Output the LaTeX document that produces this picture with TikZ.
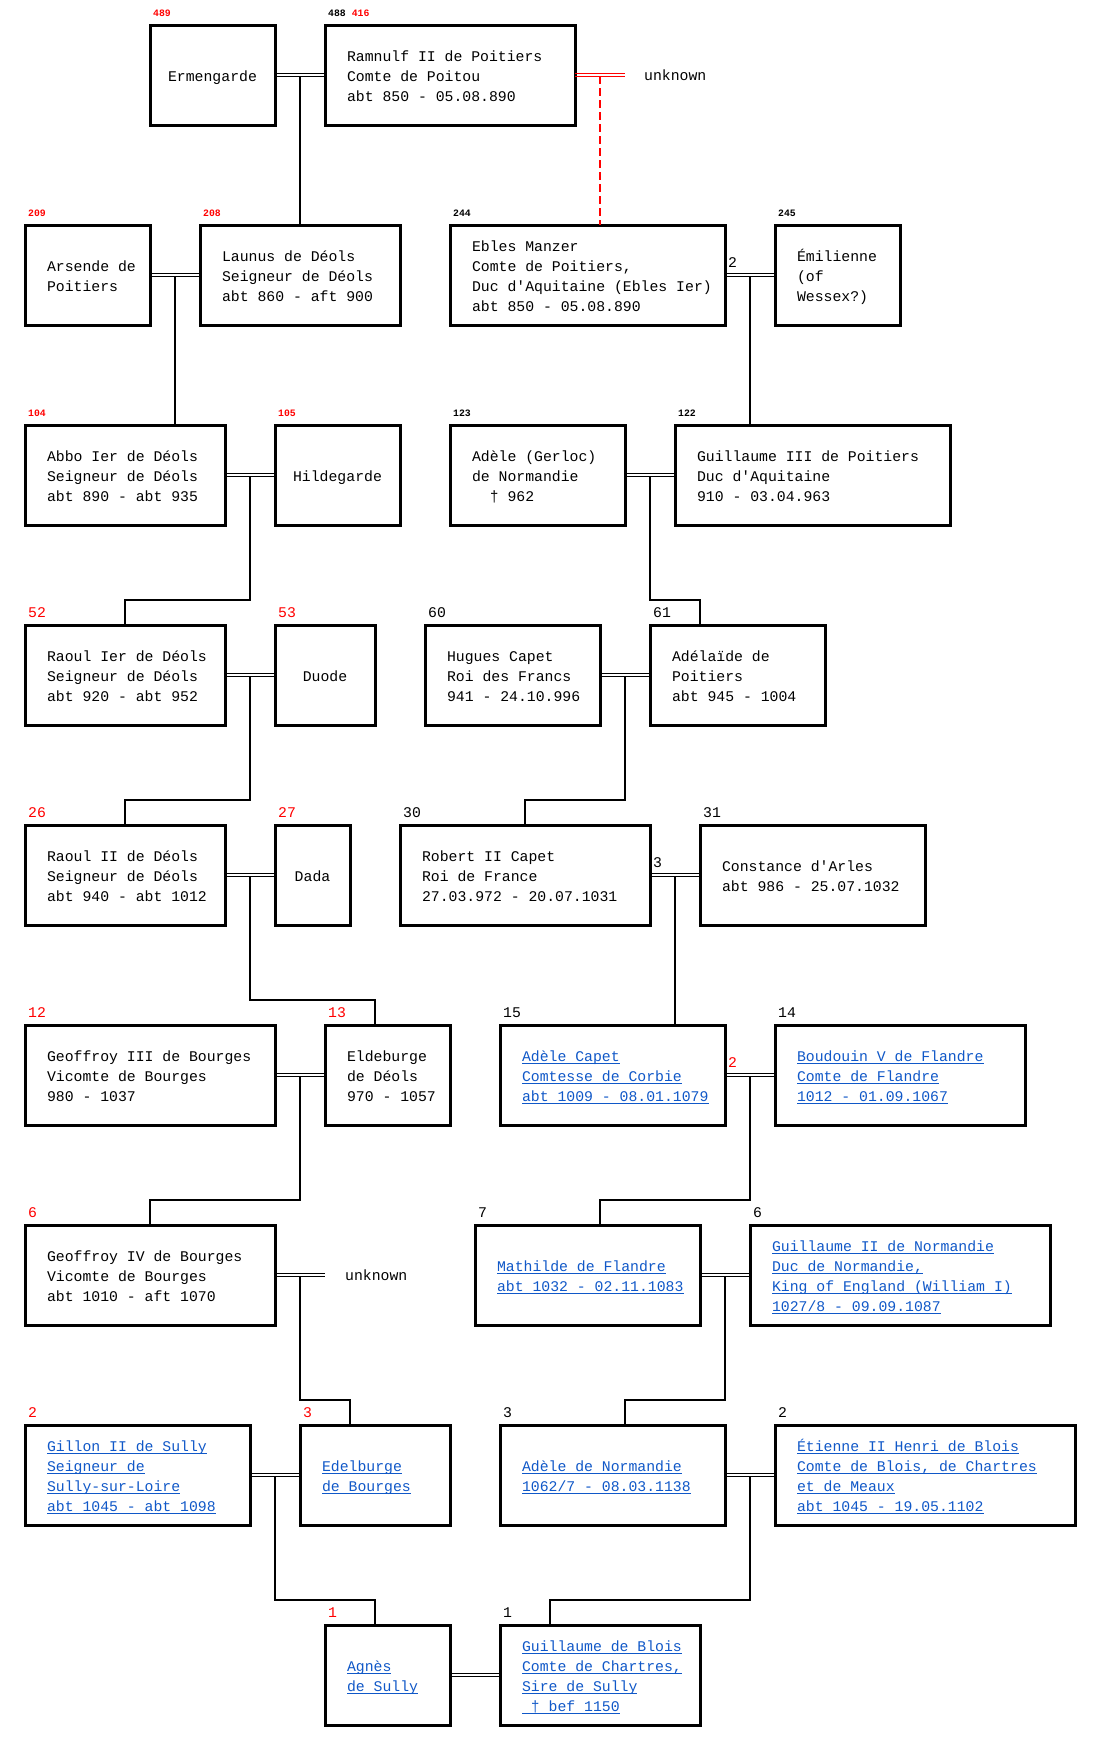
\documentclass[tikz,border=0pt]{standalone}
\usepackage{fontspec}
\setmonofont{Liberation Mono}
\usetikzlibrary{calc}
\definecolor{linkblue}{RGB}{16,88,200}
\newcommand\ulk[1]{\setbox0=\hbox{#1}\rlap{\rule[-3.2pt]{\wd0}{1.1pt}}\box0}
% multi-line content: box of width #1, text 22pt from the left edge
\newcommand\tb[2]{\makebox[#1][l]{\hspace{22pt}\begin{tabular}{@{}l@{}}\rule{0pt}{18.5pt}#2\end{tabular}}}
\tikzset{
  person/.style={draw, line width=3pt, minimum height=100pt, inner sep=0pt, outer sep=0pt,
    font=\ttfamily\fontsize{14.8}{20}\selectfont},
  single/.style={person, align=center,
    execute at begin node=\rule{0pt}{18pt}, execute at end node=\strut},
  link/.style={person, text=linkblue},
  lab/.style={anchor=base west, inner sep=0pt, font=\ttfamily\fontsize{14.8}{20}\selectfont},
  slab/.style={anchor=base west, inner sep=0pt, font=\ttfamily\bfseries\fontsize{9.8}{12}\selectfont},
  wed/.style={line width=1.1pt},
  desc/.style={line width=2pt},
  unk/.style={anchor=base west, inner sep=0pt, font=\ttfamily\fontsize{14.8}{20}\selectfont},
}
\begin{document}
\begin{tikzpicture}[x=1pt,y=-1pt]
\fill[white] (0,0) rectangle (1101,1751);
\useasboundingbox (0,0) rectangle (1101,1751);

% Row 1
\node[single, minimum width=125pt] (erm) at (212.5,75) {Ermengarde};
\node[person] (ram) at (450,75) {\tb{250pt}{Ramnulf II de Poitiers\\Comte de Poitou\\abt 850 - 05.08.890}};
% Row 2
\node[person] (ars) at (87.5,275) {\tb{125pt}{Arsende de\\Poitiers}};
\node[person] (lau) at (300,275) {\tb{200pt}{Launus de Déols\\Seigneur de Déols\\abt 860 - aft 900}};
\node[person] (ebl) at (587.5,275) {\tb{275pt}{Ebles Manzer\\Comte de Poitiers,\\Duc d'Aquitaine (Ebles Ier)\\abt 850 - 05.08.890}};
\node[person] (emi) at (837.5,275) {\tb{125pt}{Émilienne\\(of\\Wessex?)}};
% Row 3
\node[person] (abbo) at (125,475) {\tb{200pt}{Abbo Ier de Déols\\Seigneur de Déols\\abt 890 - abt 935}};
\node[single, minimum width=125pt] (hild) at (337.5,475) {Hildegarde};
\node[person] (adg) at (537.5,475) {\tb{175pt}{Adèle (Gerloc)\\de Normandie\\\ \ † 962}};
\node[person] (gu3) at (812.5,475) {\tb{275pt}{Guillaume III de Poitiers\\Duc d'Aquitaine\\910 - 03.04.963}};
% Row 4
\node[person] (ra1) at (125,675) {\tb{200pt}{Raoul Ier de Déols\\Seigneur de Déols\\abt 920 - abt 952}};
\node[single, minimum width=100pt] (duo) at (325,675) {Duode};
\node[person] (hug) at (512.5,675) {\tb{175pt}{Hugues Capet\\Roi des Francs\\941 - 24.10.996}};
\node[person] (ada) at (737.5,675) {\tb{175pt}{Adélaïde de\\Poitiers\\abt 945 - 1004}};
% Row 5
\node[person] (ra2) at (125,875) {\tb{200pt}{Raoul II de Déols\\Seigneur de Déols\\abt 940 - abt 1012}};
\node[single, minimum width=75pt] (dada) at (312.5,875) {Dada};
\node[person] (rob) at (525,875) {\tb{250pt}{Robert II Capet\\Roi de France\\27.03.972 - 20.07.1031}};
\node[person] (con) at (812.5,875) {\tb{225pt}{Constance d'Arles\\abt 986 - 25.07.1032}};
% Row 6
\node[person] (ge3) at (150,1075) {\tb{250pt}{Geoffroy III de Bourges\\Vicomte de Bourges\\980 - 1037}};
\node[person] (eld) at (387.5,1075) {\tb{125pt}{Eldeburge\\de Déols\\970 - 1057}};
\node[link] (adc) at (612.5,1075) {\tb{225pt}{\ulk{Adèle Capet}\\\ulk{Comtesse de Corbie}\\\ulk{abt 1009 - 08.01.1079}}};
\node[link] (bou) at (900,1075) {\tb{250pt}{\ulk{Boudouin V de Flandre}\\\ulk{Comte de Flandre}\\\ulk{1012 - 01.09.1067}}};
% Row 7
\node[person] (ge4) at (150,1275) {\tb{250pt}{Geoffroy IV de Bourges\\Vicomte de Bourges\\abt 1010 - aft 1070}};
\node[link] (mat) at (587.5,1275) {\tb{225pt}{\ulk{Mathilde de Flandre}\\\ulk{abt 1032 - 02.11.1083}}};
\node[link] (gu2) at (900,1275) {\tb{300pt}{\ulk{Guillaume II de Normandie}\\\ulk{Duc de Normandie,}\\\ulk{King of England (William I)}\\\ulk{1027/8 - 09.09.1087}}};
% Row 8
\node[link] (gil) at (137.5,1475) {\tb{225pt}{\ulk{Gillon II de Sully}\\\ulk{Seigneur de}\\\ulk{Sully-sur-Loire}\\\ulk{abt 1045 - abt 1098}}};
\node[link] (ede) at (375,1475) {\tb{150pt}{\ulk{Edelburge}\\\ulk{de Bourges}}};
\node[link] (adn) at (612.5,1475) {\tb{225pt}{\ulk{Adèle de Normandie}\\\ulk{1062/7 - 08.03.1138}}};
\node[link] (eti) at (925,1475) {\tb{300pt}{\ulk{Étienne II Henri de Blois}\\\ulk{Comte de Blois, de Chartres}\\\ulk{et de Meaux}\\\ulk{abt 1045 - 19.05.1102}}};
% Row 9
\node[link] (agn) at (387.5,1675) {\tb{125pt}{\ulk{Agnès}\\\ulk{de Sully}}};
\node[link] (gub) at (600,1675) {\tb{200pt}{\ulk{Guillaume de Blois}\\\ulk{Comte de Chartres,}\\\ulk{Sire de Sully}\\\ulk{ † bef 1150}}};

% Number labels
\node[slab, red] (n489) at ([xshift=3pt,yshift=8.5pt]erm.north west) {489};
\node[slab] (n488) at ([xshift=3pt,yshift=8.5pt]ram.north west) {488\hspace{6pt}\textcolor{red}{416}};
\node[slab, red] (n209) at ([xshift=3pt,yshift=8.5pt]ars.north west) {209};
\node[slab, red] (n208) at ([xshift=3pt,yshift=8.5pt]lau.north west) {208};
\node[slab] (n244) at ([xshift=3pt,yshift=8.5pt]ebl.north west) {244};
\node[slab] (n245) at ([xshift=3pt,yshift=8.5pt]emi.north west) {245};
\node[slab, red] (n104) at ([xshift=3pt,yshift=8.5pt]abbo.north west) {104};
\node[slab, red] (n105) at ([xshift=3pt,yshift=8.5pt]hild.north west) {105};
\node[slab] (n123) at ([xshift=3pt,yshift=8.5pt]adg.north west) {123};
\node[slab] (n122) at ([xshift=3pt,yshift=8.5pt]gu3.north west) {122};
\node[lab, red] (n52) at ([xshift=3pt,yshift=7.5pt]ra1.north west) {52};
\node[lab, red] (n53) at ([xshift=3pt,yshift=7.5pt]duo.north west) {53};
\node[lab] (n60) at ([xshift=3pt,yshift=7.5pt]hug.north west) {60};
\node[lab] (n61) at ([xshift=3pt,yshift=7.5pt]ada.north west) {61};
\node[lab, red] (n26) at ([xshift=3pt,yshift=7.5pt]ra2.north west) {26};
\node[lab, red] (n27) at ([xshift=3pt,yshift=7.5pt]dada.north west) {27};
\node[lab] (n30) at ([xshift=3pt,yshift=7.5pt]rob.north west) {30};
\node[lab] (n31) at ([xshift=3pt,yshift=7.5pt]con.north west) {31};
\node[lab, red] (n12) at ([xshift=3pt,yshift=7.5pt]ge3.north west) {12};
\node[lab, red] (n13) at ([xshift=3pt,yshift=7.5pt]eld.north west) {13};
\node[lab] (n15) at ([xshift=3pt,yshift=7.5pt]adc.north west) {15};
\node[lab] (n14) at ([xshift=3pt,yshift=7.5pt]bou.north west) {14};
\node[lab, red] (n6a) at ([xshift=3pt,yshift=7.5pt]ge4.north west) {6};
\node[lab] (n7) at ([xshift=3pt,yshift=7.5pt]mat.north west) {7};
\node[lab] (n6b) at ([xshift=3pt,yshift=7.5pt]gu2.north west) {6};
\node[lab, red] (n2a) at ([xshift=3pt,yshift=7.5pt]gil.north west) {2};
\node[lab, red] (n3a) at ([xshift=3pt,yshift=7.5pt]ede.north west) {3};
\node[lab] (n3b) at ([xshift=3pt,yshift=7.5pt]adn.north west) {3};
\node[lab] (n2b) at ([xshift=3pt,yshift=7.5pt]eti.north west) {2};
\node[lab, red] (n1a) at ([xshift=3pt,yshift=7.5pt]agn.north west) {1};
\node[lab] (n1b) at ([xshift=3pt,yshift=7.5pt]gub.north west) {1};
% marriage-count labels
\node[lab] (c2a) at ([xshift=3pt,yshift=7.5pt]ebl.east) {2};
\node[lab] (c3) at ([xshift=3pt,yshift=7.5pt]rob.east) {3};
\node[lab, red] (c2b) at ([xshift=3pt,yshift=7.5pt]adc.east) {2};

% unknown partners
\coordinate (u1) at ([xshift=50pt]ram.east);
\node[unk] (unk1) at ([xshift=19pt,yshift=-5.5pt]u1) {unknown};
\coordinate (u2) at ([xshift=50pt]ge4.east);
\node[unk] (unk2) at ([xshift=20pt,yshift=-5.5pt]u2) {unknown};

% marriage double lines
\foreach \a/\b in {erm/ram, ars/lau, ebl/emi, abbo/hild, adg/gu3, ra1/duo, hug/ada, ra2/dada, rob/con, ge3/eld, adc/bou, mat/gu2, gil/ede, adn/eti, agn/gub}{
  \draw[wed] ([yshift=1.2pt]\a.east) -- ([yshift=1.2pt]\b.west);
  \draw[wed] ([yshift=-1.3pt]\a.east) -- ([yshift=-1.3pt]\b.west);
}
\draw[wed, red] ([yshift=1.2pt]ram.east) -- ([yshift=1.2pt]u1);
\draw[wed, red] ([yshift=-1.3pt]ram.east) -- ([yshift=-1.3pt]u1);
\draw[wed] ([yshift=1.2pt]ge4.east) -- ([yshift=1.2pt]u2);
\draw[wed] ([yshift=-1.3pt]ge4.east) -- ([yshift=-1.3pt]u2);

% midpoints (lower line)
\coordinate (m1) at ([yshift=-1.3pt]$(erm.east)!0.5!(ram.west)$);
\coordinate (mu) at ([yshift=-1.3pt]$(ram.east)!0.5!(u1)$);
\coordinate (m2) at ([yshift=-1.3pt]$(ars.east)!0.5!(lau.west)$);
\coordinate (m3) at ([yshift=-1.3pt]$(ebl.east)!0.5!(emi.west)$);
\coordinate (m4) at ([yshift=-1.3pt]$(abbo.east)!0.5!(hild.west)$);
\coordinate (m5) at ([yshift=-1.3pt]$(adg.east)!0.5!(gu3.west)$);
\coordinate (m6) at ([yshift=-1.3pt]$(ra1.east)!0.5!(duo.west)$);
\coordinate (m7) at ([yshift=-1.3pt]$(hug.east)!0.5!(ada.west)$);
\coordinate (m8) at ([yshift=-1.3pt]$(ra2.east)!0.5!(dada.west)$);
\coordinate (m9) at ([yshift=-1.3pt]$(rob.east)!0.5!(con.west)$);
\coordinate (m10) at ([yshift=-1.3pt]$(ge3.east)!0.5!(eld.west)$);
\coordinate (m11) at ([yshift=-1.3pt]$(adc.east)!0.5!(bou.west)$);
\coordinate (m12) at ([yshift=-1.3pt]$(ge4.east)!0.5!(u2)$);
\coordinate (m13) at ([yshift=-1.3pt]$(mat.east)!0.5!(gu2.west)$);
\coordinate (m14) at ([yshift=-1.3pt]$(gil.east)!0.5!(ede.west)$);
\coordinate (m15) at ([yshift=-1.3pt]$(adn.east)!0.5!(eti.west)$);

% descent lines
\draw[desc] (m1) -- (m1 |- lau.north);
\draw[desc, red, dash pattern=on 8pt off 4pt] (mu) -- (mu |- ebl.north);
\draw[desc] (m2) -- (m2 |- abbo.north);
\draw[desc] (m3) -- (m3 |- gu3.north);
\draw[desc] (m4) |- ([xshift=100pt,yshift=25pt]ra1.north west) -- ([xshift=100pt]ra1.north west);
\draw[desc] (m5) |- ([xshift=50pt,yshift=25pt]ada.north west) -- ([xshift=50pt]ada.north west);
\draw[desc] (m6) |- ([xshift=100pt,yshift=25pt]ra2.north west) -- ([xshift=100pt]ra2.north west);
\draw[desc] (m7) |- ([xshift=125pt,yshift=25pt]rob.north west) -- ([xshift=125pt]rob.north west);
\draw[desc] (m8) |- ([xshift=50pt,yshift=25pt]eld.north west) -- ([xshift=50pt]eld.north west);
\draw[desc] (m9) -- (m9 |- adc.north);
\draw[desc] (m10) |- ([xshift=125pt,yshift=25pt]ge4.north west) -- ([xshift=125pt]ge4.north west);
\draw[desc] (m11) |- ([xshift=125pt,yshift=25pt]mat.north west) -- ([xshift=125pt]mat.north west);
\draw[desc] (m12) |- ([xshift=50pt,yshift=25pt]ede.north west) -- ([xshift=50pt]ede.north west);
\draw[desc] (m13) |- ([xshift=125pt,yshift=25pt]adn.north west) -- ([xshift=125pt]adn.north west);
\draw[desc] (m14) |- ([xshift=50pt,yshift=25pt]agn.north west) -- ([xshift=50pt]agn.north west);
\draw[desc] (m15) |- ([xshift=50pt,yshift=25pt]gub.north west) -- ([xshift=50pt]gub.north west);
\end{tikzpicture}
\end{document}
